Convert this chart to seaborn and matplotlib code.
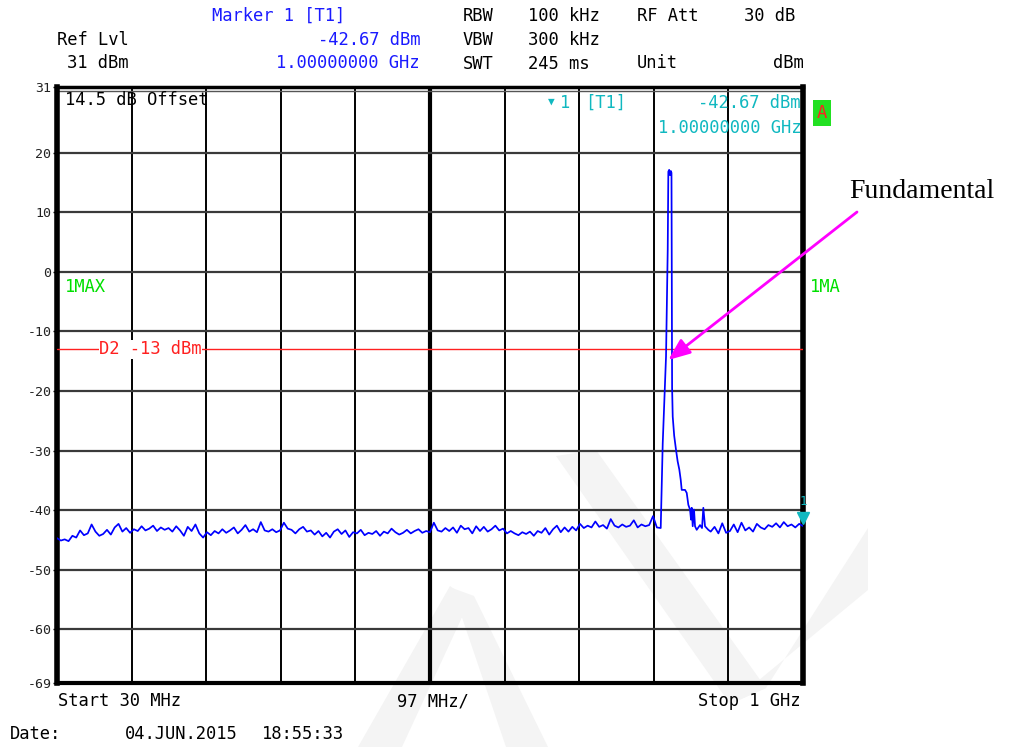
import numpy as np
import pandas as pd
import matplotlib
matplotlib.use("Agg")
import matplotlib.pyplot as plt
from matplotlib.patches import Polygon
import seaborn as sns

# ---------------- data ----------------
# sweep 30 MHz .. 815 MHz, 5 MHz steps (noise floor before the carrier)
floor1_start, floor1_stop = 30.0, 815.0
floor1_levels = [
    -44.7, -45.1, -44.9, -45.2, -44.3, -44.6, -43.4, -44.2, -43.9, -42.4,
    -43.6, -44.3, -44.0, -43.3, -44.1, -42.9, -42.3, -43.6, -43.0, -43.8,
    -43.2, -43.5, -42.7, -43.4, -43.1, -42.6, -43.5, -42.9, -43.3, -43.0,
    -43.6, -42.7, -43.4, -44.3, -42.8, -43.5, -42.4, -43.9, -44.6, -43.7,
    -44.2, -43.5, -43.9, -43.2, -43.8, -43.4, -42.9, -43.9, -43.3, -42.5,
    -43.6, -43.2, -43.7, -42.0, -43.4, -43.6, -43.2, -43.7, -43.4, -42.1,
    -43.1, -43.3, -43.9, -43.2, -42.8, -43.6, -43.4, -44.1, -43.5, -44.4,
    -43.8, -44.6, -43.6, -43.2, -44.0, -43.4, -44.5, -43.7, -43.9, -43.3,
    -44.2, -43.8, -44.0, -43.5, -44.3, -43.6, -43.9, -43.1, -43.7, -44.1,
    -43.8, -43.3, -43.9, -43.5, -43.2, -43.8, -43.5, -43.7, -42.1, -43.4,
    -43.6, -43.0, -43.5, -42.9, -43.8, -42.6, -43.2, -43.0, -43.9, -42.7,
    -43.5, -42.8, -43.6, -43.2, -42.6, -43.4, -43.1, -43.9, -43.5, -43.9,
    -44.2, -43.7, -44.0, -43.6, -44.3, -43.5, -43.8, -43.0, -44.1, -43.2,
    -42.6, -43.7, -42.9, -43.6, -42.8, -43.4, -42.3, -43.0, -42.6, -42.9,
    -41.9, -42.8, -42.5, -43.1, -41.5, -42.6, -42.9, -42.4, -42.8, -42.6,
    -41.7, -42.9, -42.4, -42.7, -42.5, -41.0, -42.9, -43.0,
]
# carrier (fundamental) region
peak_freqs = [816.0, 817.6, 819.8, 821.9, 823.2, 824.1, 824.9, 826.0, 827.1,
              828.2, 829.0, 829.4, 829.8, 830.6, 832.5, 834.9, 837.0, 839.2,
              841.0, 842.3, 846.6, 848.8, 850.9, 853.1, 854.4, 855.3, 856.6,
              858.3, 859.6, 861.8, 866.1, 868.7, 870.4, 872.6, 876.9]
peak_levels = [-37.5, -28.8, -21.5, -14.2, -3.0, 3.7, 16.8, 17.1, 16.2,
               16.9, 16.6, -5.0, -19.5, -24.3, -27.5, -29.9, -31.8, -33.2,
               -34.9, -36.6, -36.6, -37.1, -39.1, -39.9, -41.6, -39.6, -42.7,
               -39.9, -42.7, -43.3, -42.5, -43.0, -39.6, -42.7, -43.3]
# sweep 880 MHz .. 1000 MHz, 5 MHz steps
floor2_start, floor2_stop = 880.0, 1000.0
floor2_levels = [
    -43.6, -42.8, -43.9, -42.2, -43.8, -43.5, -42.4, -43.7, -42.1, -43.4,
    -42.9, -43.6, -42.3, -42.9, -43.2, -42.5, -42.8, -42.2, -42.9, -42.0,
    -42.7, -42.4, -42.9, -42.3, -42.67,
]

y_ticks = [31, 20, 10, 0, -10, -20, -30, -40, -50, -60, -69]
display_line = -13.0
marker_freq, marker_level = 1000.0, -42.67
fundamental_freq, fundamental_level = 824.9, -14.8

freq = np.concatenate([
    np.linspace(floor1_start, floor1_stop, len(floor1_levels)),
    np.array(peak_freqs),
    np.linspace(floor2_start, floor2_stop, len(floor2_levels)),
])
level = np.concatenate([floor1_levels, peak_levels, floor2_levels])
df = pd.DataFrame({"Frequency (MHz)": freq, "Level (dBm)": level})

# ---------------- figure ----------------
sns.set_theme(style="white")
plt.rcParams["font.family"] = ["DejaVu Sans Mono", "DejaVu Sans"]

W, H = 1009, 747
fig = plt.figure(figsize=(W / 100, H / 100), dpi=100)
fig.patch.set_facecolor("white")

def fx(x):
    return x / W

def fy(y):
    return 1 - y / H

# faint background watermark strokes (figure pixel layout)
wm_strokes = [
    [(358, 747), (402, 747), (470, 600), (450, 586)],
    [(452, 588), (474, 596), (548, 747), (506, 747)],
    [(556, 456), (596, 450), (766, 688), (730, 704)],
    [(730, 704), (766, 688), (868, 528), (868, 590)],
]
for pts in wm_strokes:
    fig.patches.append(Polygon([(fx(a), fy(b)) for a, b in pts], closed=True,
                               transform=fig.transFigure, facecolor="#f4f4f4",
                               edgecolor="none", zorder=-5))

ax = fig.add_axes([fx(57), fy(683), (803 - 57) / W, (683 - 87) / H])
ax.patch.set_alpha(0.0)
ax.set_xlim(30, 1000)
ax.set_ylim(-69, 31)

# grid
xdiv = np.linspace(30, 1000, 11)
for i, xv in enumerate(xdiv[1:-1], start=1):
    ax.axvline(xv, color="black", lw=3.0 if i == 5 else 1.4, zorder=1)
for yv in y_ticks[1:-1]:
    ax.axhline(yv, color="#3a3a3a", lw=1.6, zorder=1)
ax.axhline(30.35, color="#555555", lw=1.0, zorder=1)

# trace
sns.lineplot(data=df, x="Frequency (MHz)", y="Level (dBm)", ax=ax,
             color="#0000ff", lw=1.25, estimator=None, sort=False, zorder=4)

# display line D2
ax.axhline(display_line, color="#ff2020", lw=1.0, zorder=3)
ax.text(85, display_line, "D2 -13 dBm", color="#ff2020", fontsize=12.3,
        va="center", ha="left", zorder=5,
        bbox=dict(facecolor="white", edgecolor="none", pad=0.5))

# marker
ax.plot([marker_freq], [marker_level + 1.4], marker="v", color="#10b8c0",
        markersize=8, clip_on=False, zorder=6)
ax.text(marker_freq, marker_level + 3.0, "1", color="#10b8c0", fontsize=9,
        ha="center", va="bottom", clip_on=False, zorder=6)

# axes styling
ax.set_xticks([])
ax.set_yticks(y_ticks)
ax.set_yticklabels([str(t) for t in y_ticks], fontsize=9.5, color="#222222")
ax.tick_params(axis="y", length=3, width=1, color="black", pad=1, left=True)
ax.set_xlabel("")
ax.set_ylabel("")
for side, lw in [("left", 4.0), ("right", 4.0), ("top", 2.5), ("bottom", 3.0)]:
    ax.spines[side].set_visible(True)
    ax.spines[side].set_color("black")
    ax.spines[side].set_linewidth(lw)

fs = 12.3
blue = "#1a1aff"
cyan = "#10b8c0"
green = "#00e000"

# header
fig.text(fx(212), fy(16), "Marker 1 [T1]", color=blue, fontsize=fs, va="center")
fig.text(fx(420), fy(40), "-42.67 dBm", color=blue, fontsize=fs, va="center", ha="right")
fig.text(fx(420), fy(63), "1.00000000 GHz", color=blue, fontsize=fs, va="center", ha="right")
fig.text(fx(57), fy(40), "Ref Lvl", color="black", fontsize=fs, va="center")
fig.text(fx(67), fy(63), "31 dBm", color="black", fontsize=fs, va="center")
for row, (a, b) in enumerate([("RBW", "100 kHz"), ("VBW", "300 kHz"), ("SWT", "245 ms")]):
    fig.text(fx(463), fy(16 + 24 * row), a, color="black", fontsize=fs, va="center")
    fig.text(fx(528), fy(16 + 24 * row), b, color="black", fontsize=fs, va="center")
fig.text(fx(637), fy(16), "RF Att", color="black", fontsize=fs, va="center")
fig.text(fx(795), fy(16), "30 dB", color="black", fontsize=fs, va="center", ha="right")
fig.text(fx(637), fy(63), "Unit", color="black", fontsize=fs, va="center")
fig.text(fx(804), fy(63), "dBm", color="black", fontsize=fs, va="center", ha="right")

# in-plot annotations
fig.text(fx(65), fy(100), "14.5 dB Offset", color="black", fontsize=fs, va="center")
fig.text(fx(548), fy(102), "\u25BC", color=cyan, fontsize=8, va="center")
fig.text(fx(560), fy(103), "1", color=cyan, fontsize=fs, va="center")
fig.text(fx(585), fy(103), "[T1]", color=cyan, fontsize=fs, va="center")
fig.text(fx(801), fy(103), "-42.67 dBm", color=cyan, fontsize=fs, va="center", ha="right")
fig.text(fx(801), fy(128), "1.00000000 GHz", color=cyan, fontsize=fs, va="center", ha="right")
fig.text(fx(822), fy(113), "A", color="#ff2020", fontsize=fs, va="center", ha="center",
         bbox=dict(facecolor="#22e022", edgecolor="none", boxstyle="square,pad=0.25"))
fig.text(fx(65), fy(287), "1MAX", color=green, fontsize=fs, va="center")
fig.text(fx(810), fy(287), "1MA", color=green, fontsize=fs, va="center")

# bottom labels
fig.text(fx(58), fy(701), "Start 30 MHz", color="black", fontsize=fs, va="center")
fig.text(fx(397), fy(701), "97 MHz/", color="black", fontsize=fs, va="center")
fig.text(fx(801), fy(701), "Stop 1 GHz", color="black", fontsize=fs, va="center", ha="right")
fig.text(fx(10), fy(734), "Date:", color="black", fontsize=fs, va="center")
fig.text(fx(125), fy(734), "04.JUN.2015", color="black", fontsize=fs, va="center")
fig.text(fx(262), fy(734), "18:55:33", color="black", fontsize=fs, va="center")

# Fundamental annotation
ax.annotate("", xy=(fundamental_freq, fundamental_level),
            xytext=(fx(857), fy(212)), textcoords="figure fraction",
            arrowprops=dict(arrowstyle="-|>,head_length=1.1,head_width=0.45",
                            color="#ff00ff", lw=2.0, shrinkA=0, shrinkB=0),
            annotation_clip=False, zorder=7)
fig.text(fx(849), fy(191), "Fundamental", color="black", fontsize=20,
         family=["Liberation Serif", "DejaVu Serif"], va="center", ha="left")

fig.savefig("out.png", dpi=100, facecolor="white")
